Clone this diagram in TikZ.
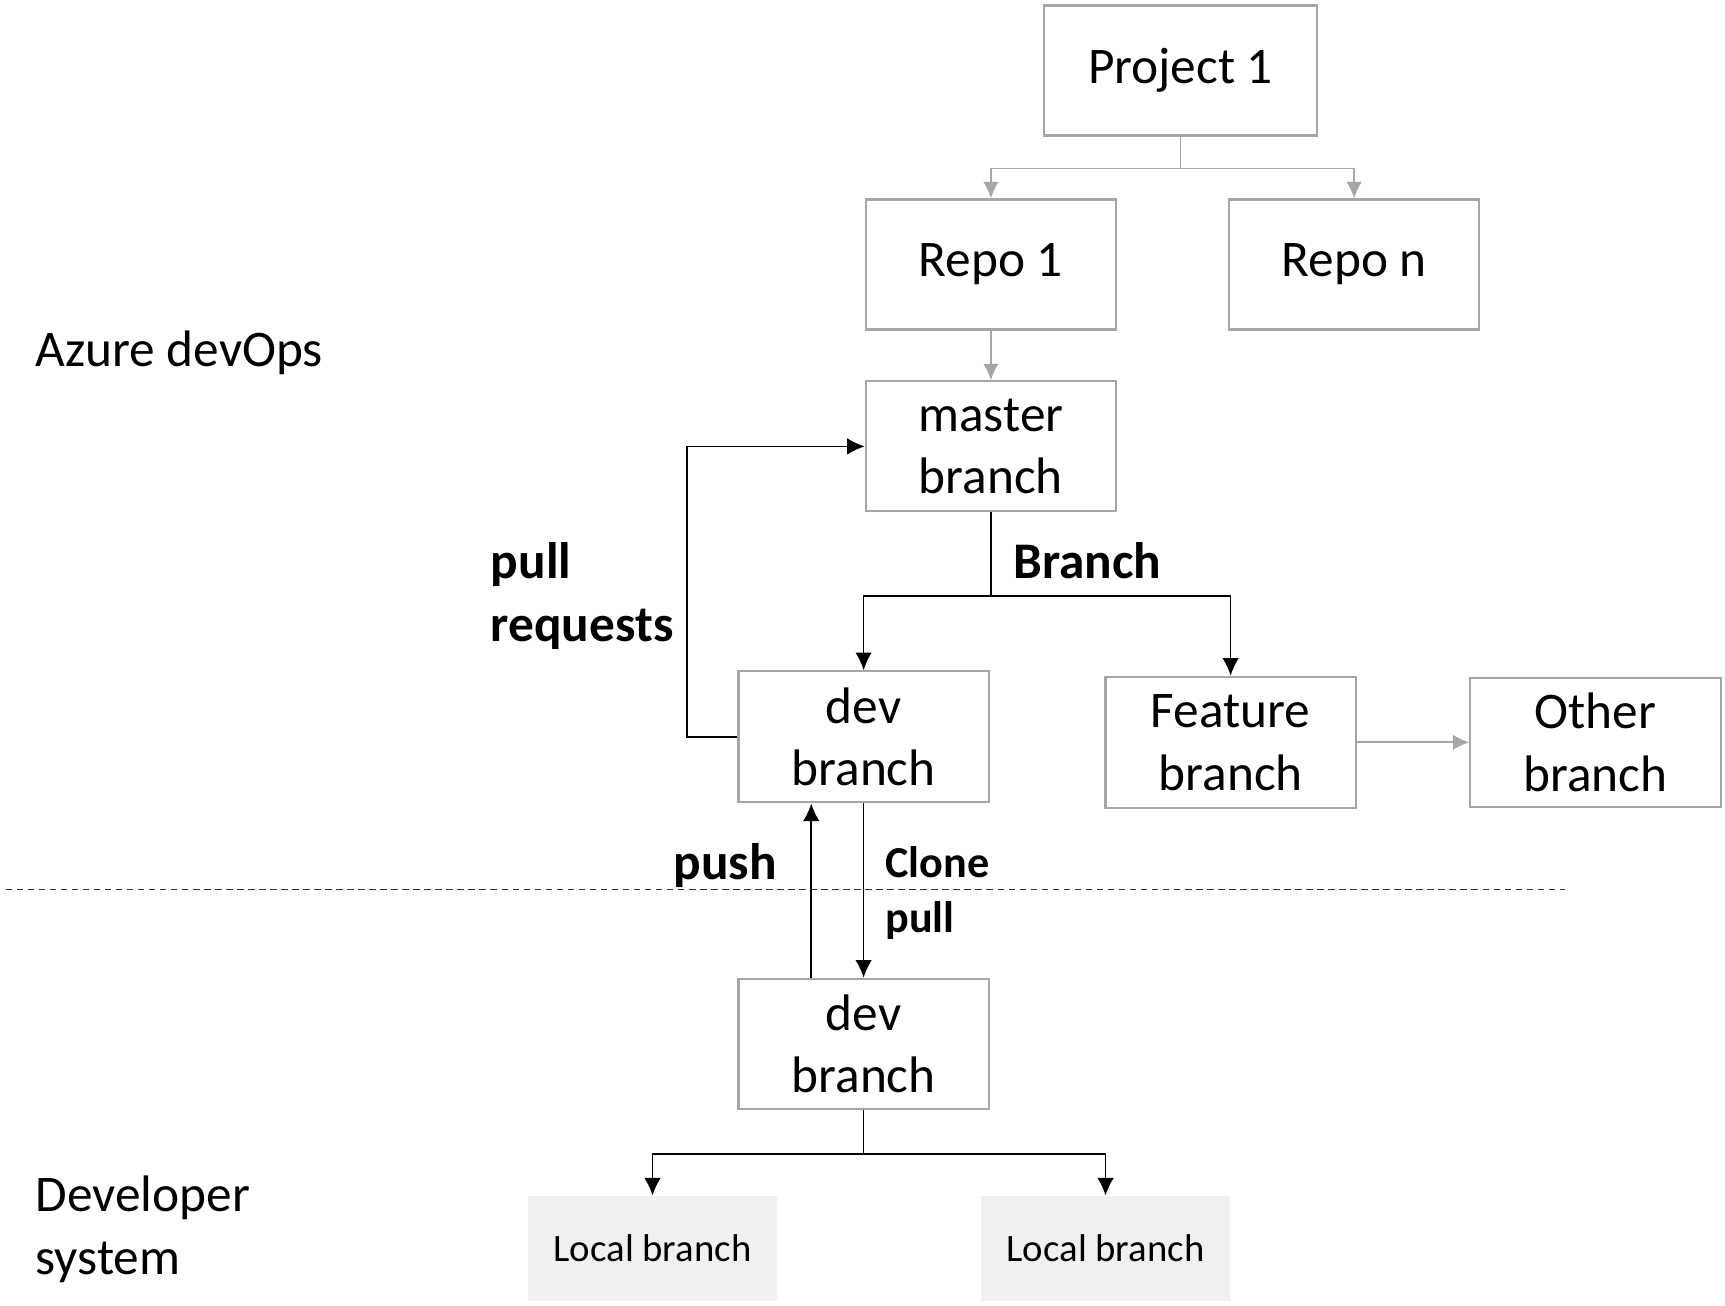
\documentclass[tikz,border=0pt]{standalone}
\usepackage{fontspec}
\setmainfont{Carlito}
\usepackage{tikz}
\usetikzlibrary{arrows.meta}
\tikzset{my arrow/.style={
  black,
  line width=0.8pt,
  -{Latex[length=0.32cm,width=0.3cm]}
  }
}
\tikzset{my grey arrow/.style={
  gray!70,
  line width=0.9pt,
  -{Latex[length=0.3cm,width=0.28cm]}
  }
}
\tikzset{my box/.style={
  draw=gray!70,
  line width=1.1pt,
  minimum width=4.54cm,
  minimum height=2.36cm,
  align=center,
  font=\fontsize{26.5}{32.4}\selectfont
  }
}
\tikzset{local box/.style={
  fill=gray!12,
  minimum width=4.52cm,
  minimum height=1.9cm,
  font=\fontsize{20}{24}\selectfont
  }
}
\tikzset{side text/.style={inner sep=0pt,anchor=west,align=left,font=\fontsize{26.5}{32.4}\selectfont}}
\tikzset{bold text/.style={inner sep=0pt,align=left,font=\fontsize{26.5}{32.4}\selectfont\bfseries}}

\begin{document}
\begin{tikzpicture}
    \useasboundingbox (0,0) rectangle (31.3,23.68);

    \node[my box,minimum width=4.94cm] (P) at (21.42,22.4) {Project 1};
    \foreach \x/\i [count=\n] in {17.98/Repo 1,24.57/Repo n}
        \node[my box] (R\n) at (\x,18.88) {\i};
    \node[my box] (M) at (17.98,15.58) {master\\branch};
    \node[my box,minimum height=2.38cm] (D1) at (15.67,10.31) {dev\\branch};
    \node[my box,minimum height=2.38cm] (F) at (22.33,10.21) {Feature\\branch};
    \node[my box,minimum height=2.34cm] (O) at (28.95,10.21) {Other\\branch};
    \node[my box] (D2) at (15.67,4.74) {dev\\branch};
    \foreach \x [count=\n] in {11.84,20.06}
        \node[local box] (L\n) at (\x,1.03) {Local branch};

    \node[side text] (AZ) at (0.64,17.28) {Azure devOps};
    \node[side text] (DS) at (0.64,1.38) {Developer\\system};
    \node[bold text,anchor=west] (PR) at (8.9,12.87) {pull\\requests};
    \node[bold text,anchor=west] (BR) at (18.38,13.5) {Branch};
    \node[bold text] (PU) at (13.16,7.98) {push};
    \node[bold text,anchor=west,font=\fontsize{22.8}{28.5}\selectfont\bfseries] (CP) at (16.06,7.48) {Clone\\pull};

    \draw[my grey arrow] (P.south) -- ++(0,-0.58) -| (R1.north);
    \draw[my grey arrow] (P.south) -- ++(0,-0.58) -| (R2.north);
    \draw[my grey arrow] (R1.south) -- (M.north);
    \draw[my arrow] (M.south) -- ++(0,-1.52) -| (D1.north);
    \draw[my arrow] (M.south) -- ++(0,-1.52) -| (F.north);
    \draw[my grey arrow] (F.east) -- (O.west);
    \draw[my arrow] (D1.west) -- ++(-0.92,0) |- (M.west);
    \draw[my arrow] ([xshift=-0.95cm]D2.north) -- ([xshift=-0.95cm]D1.south);
    \draw[my arrow] (D1.south) -- (D2.north);
    \draw[my arrow] (D2.south) -- ++(0,-0.8) -| (L1.north);
    \draw[my arrow] (D2.south) -- ++(0,-0.8) -| (L2.north);

    \coordinate (S1) at (0.1,7.54);
    \coordinate (S2) at (28.4,7.54);
    \draw[gray!40!black,line width=0.6pt,dash pattern=on 0.12cm off 0.08cm] (S1) -- (S2);
\end{tikzpicture}
\end{document}
